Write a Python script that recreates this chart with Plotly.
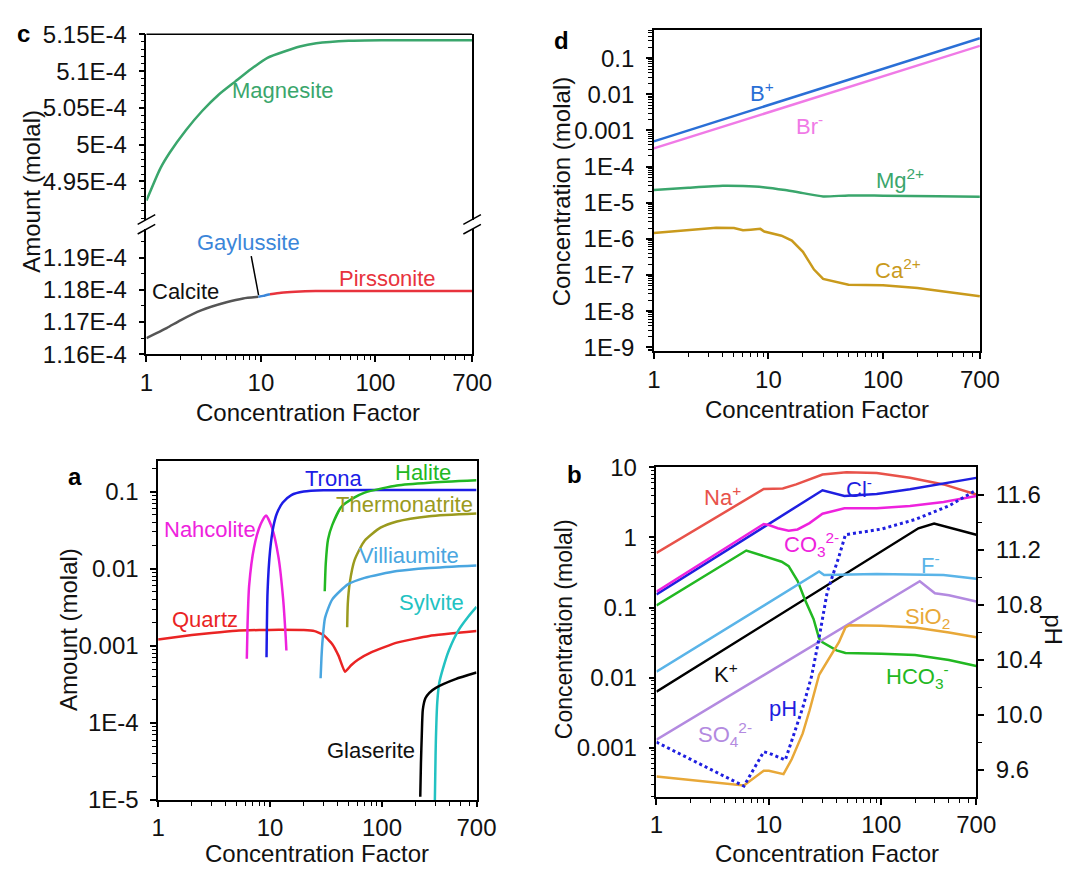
import math
import plotly.graph_objects as go

W, H = 1086, 877
FONT = "Liberation Sans, Arial, sans-serif"


def px(x, y):
    return x / W, 1 - y / H


# ---------------- Panel c (amounts, broken y-axis) ----------------
c_mag_x = [1, 1.32, 1.6, 2.22, 3.08, 4.27, 5.92, 8.21, 11.4, 21.9, 30.4, 58.4, 112, 700]
c_mag_y = [4.924e-4, 4.9675e-4, 4.9893e-4, 5.0199e-4, 5.0461e-4, 5.0679e-4, 5.0854e-4,
           5.1028e-4, 5.1181e-4, 5.1334e-4, 5.1378e-4, 5.1413e-4, 5.1421e-4, 5.1421e-4]
c_cal_x = [1, 1.5, 2, 3, 5, 7, 9.5]
c_cal_y = [1.1650e-4, 1.1681e-4, 1.1706e-4, 1.1736e-4, 1.1761e-4, 1.1773e-4, 1.1778e-4]
c_gay_x = [9.5, 10.5, 12]
c_gay_y = [1.1778e-4, 1.1781e-4, 1.1786e-4]
c_pir_x = [12, 15, 20, 30, 50, 100, 700]
c_pir_y = [1.1786e-4, 1.1791e-4, 1.1794e-4, 1.1796e-4, 1.1796e-4, 1.1796e-4, 1.1796e-4]
c_low_ticks = [1.16e-4, 1.17e-4, 1.18e-4, 1.19e-4]
c_low_text = ["1.16E-4", "1.17E-4", "1.18E-4", "1.19E-4"]
c_up_ticks = [4.95e-4, 5.0e-4, 5.05e-4, 5.1e-4, 5.15e-4]
c_up_text = ["4.95E-4", "5E-4", "5.05E-4", "5.1E-4", "5.15E-4"]

# ---------------- Panel d (concentrations) ----------------
d_lin_x = [1, 10, 100, 700]
d_b_y = [5.0e-4, 5.0e-3, 5.0e-2, 0.36]
d_br_y = [3.2e-4, 3.2e-3, 3.2e-2, 0.22]
d_mg_x = [1, 2, 4, 6, 9, 14, 20, 30, 50, 100, 300, 700]
d_mg_y = [2.25e-5, 2.6e-5, 2.95e-5, 2.9e-5, 2.7e-5, 2.25e-5, 1.85e-5, 1.5e-5, 1.6e-5,
          1.57e-5, 1.52e-5, 1.48e-5]
d_ca_x = [1, 3.5, 5, 6, 7, 8.5, 9.2, 13, 16, 20, 25, 30, 50, 100, 200, 300, 700]
d_ca_y = [1.45e-6, 2.05e-6, 2.0e-6, 1.74e-6, 1.8e-6, 1.9e-6, 1.6e-6, 1.23e-6, 9e-7, 4.4e-7,
          1.42e-7, 7.8e-8, 5.4e-8, 5.2e-8, 4.4e-8, 3.7e-8, 2.6e-8]
d_ticks = [1e-9, 1e-8, 1e-7, 1e-6, 1e-5, 1e-4, 1e-3, 1e-2, 1e-1]
d_text = ["1E-9", "1E-8", "1E-7", "1E-6", "1E-5", "1E-4", "0.001", "0.01", "0.1"]

# ---------------- Panel a (mineral amounts) ----------------
a_qtz_x = [1, 2, 3, 5, 8, 12, 20, 25, 30, 36, 41, 46.7, 53, 61, 80, 136, 265, 700]
a_qtz_y = [1.21e-3, 1.38e-3, 1.47e-3, 1.57e-3, 1.6e-3, 1.61e-3, 1.6e-3, 1.55e-3, 1.38e-3,
           1.05e-3, 7.4e-4, 4.6e-4, 5.6e-4, 6.6e-4, 8.2e-4, 1.1e-3, 1.34e-3, 1.55e-3]
a_nah_x = [6.2, 6.3, 6.5, 7.2, 8.2, 9.2, 10.4, 11.9, 13.1, 13.8, 14.0]
a_nah_y = [6.8e-4, 2e-3, 6e-3, 0.019, 0.037, 0.049, 0.034, 0.014, 4e-3, 1.3e-3, 8.7e-4]
a_tro_x = [9.3, 9.5, 10, 10.7, 11.5, 13, 15.5, 20, 30, 100, 700]
a_tro_y = [7.1e-4, 5e-3, 0.017, 0.035, 0.052, 0.072, 0.09, 0.1, 0.104, 0.105, 0.105]
a_hal_x = [30.8, 31.5, 33, 36, 43.6, 57, 70, 100, 136, 265, 700]
a_hal_y = [5.1e-3, 0.012, 0.024, 0.037, 0.064, 0.084, 0.097, 0.11, 0.12, 0.13, 0.14]
a_the_x = [48.9, 49.5, 51.5, 57, 70, 97, 136, 265, 700]
a_the_y = [1.74e-3, 3.5e-3, 6.5e-3, 0.013, 0.023, 0.034, 0.041, 0.048, 0.052]
a_vil_x = [28.3, 28.8, 29.5, 31, 36, 50, 70, 136, 265, 700]
a_vil_y = [3.8e-4, 7e-4, 1.2e-3, 2.3e-3, 4e-3, 6.3e-3, 7.6e-3, 9.3e-3, 0.0102, 0.011]
a_syl_x = [297, 300, 303, 312, 325, 347, 396, 484, 592, 700]
a_syl_y = [1e-5, 2.5e-5, 5.7e-5, 1.84e-4, 3.3e-4, 4.8e-4, 8.7e-4, 1.6e-3, 2.4e-3, 3.2e-3]
a_gla_x = [220, 223, 227, 232, 245, 265, 303, 454, 700]
a_gla_y = [1.1e-5, 3e-5, 7e-5, 1.5e-4, 2.1e-4, 2.46e-4, 2.85e-4, 3.7e-4, 4.5e-4]
a_ticks = [1e-5, 1e-4, 1e-3, 1e-2, 1e-1]
a_text = ["1E-5", "1E-4", "0.001", "0.01", "0.1"]

# ---------------- Panel b (ions + pH) ----------------
b_na_x = [1, 6.3, 9, 13.3, 17.5, 30, 49, 91, 180, 358, 700]
b_na_y = [0.6, 3.5, 4.9, 5.0, 5.7, 7.9, 8.5, 8.3, 7.1, 5.7, 4.1]
b_cl_x = [1, 30, 47, 91, 180, 358, 700]
b_cl_y = [0.154, 4.7, 3.9, 4.15, 4.86, 5.9, 7.07]
b_co3_x = [1, 9, 10, 12, 15, 18, 23, 30, 47, 91, 180, 358, 700]
b_co3_y = [0.168, 1.55, 1.5, 1.35, 1.25, 1.3, 1.6, 2.18, 2.6, 2.6, 2.8, 3.2, 3.9]
b_k_x = [1, 214, 295, 700]
b_k_y = [0.0063, 1.35, 1.58, 1.09]
b_hco3_x = [1, 6.3, 13, 15, 18, 21, 25, 28, 30, 40, 48, 100, 200, 400, 700]
b_hco3_y = [0.107, 0.65, 0.45, 0.39, 0.24, 0.128, 0.068, 0.036, 0.032, 0.0245, 0.0225,
            0.022, 0.021, 0.0178, 0.0147]
b_f_x = [1, 28, 31, 91, 358, 700]
b_f_y = [0.0122, 0.326, 0.29, 0.30, 0.29, 0.257]
b_so4_x = [1, 220, 300, 400, 700]
b_so4_y = [0.0013, 0.237, 0.16, 0.15, 0.122]
b_si_x = [1, 6, 9, 10, 13.5, 16, 20, 23, 28, 33, 42, 48, 52, 100, 200, 400, 700]
b_si_y = [3.9e-4, 2.9e-4, 4.7e-4, 4.7e-4, 4.2e-4, 6.9e-4, 1.6e-3, 3.4e-3, 0.011, 0.0169,
          0.032, 0.052, 0.056, 0.055, 0.052, 0.044, 0.0376]
b_ph_x = [1, 6, 9, 10, 14, 16, 20, 24, 28, 33, 38, 42, 48, 100, 200, 400, 700]
b_ph_y = [9.8, 9.48, 9.73, 9.72, 9.67, 9.81, 10.05, 10.28, 10.56, 10.89, 11.04, 11.15,
          11.31, 11.35, 11.42, 11.52, 11.635]
b_ticks = [1e-3, 1e-2, 1e-1, 1, 10]
b_text = ["0.001", "0.01", "0.1", "1", "10"]
ph_ticks = [9.6, 10.0, 10.4, 10.8, 11.2, 11.6]
ph_text = ["9.6", "10.0", "10.4", "10.8", "11.2", "11.6"]

x_ticks = [1, 10, 100, 700]
x_text = ["1", "10", "100", "700"]

# colors
C_MAG = "#3aa66c"
C_CAL = "#555555"
C_GAY = "#3b86d9"
C_PIR = "#e8333d"

fig = go.Figure()


def line(x, y, color, xa, ya, shape="spline", width=2.5, dash=None, smoothing=0.6):
    ln = dict(color=color, width=width, shape=shape)
    if shape == "spline":
        ln["smoothing"] = smoothing
    if dash:
        ln["dash"] = dash
    fig.add_trace(go.Scatter(x=x, y=y, mode="lines", line=ln, xaxis=xa, yaxis=ya,
                             showlegend=False, hoverinfo="skip"))


# panel c
line(c_mag_x, c_mag_y, C_MAG, "x", "y2")
line(c_cal_x, c_cal_y, C_CAL, "x", "y")
line(c_gay_x, c_gay_y, C_GAY, "x", "y")
line(c_pir_x, c_pir_y, C_PIR, "x", "y")
# panel d
line(d_lin_x, d_b_y, "#2a6fd6", "x2", "y3", shape="linear")
line(d_lin_x, d_br_y, "#f07ae6", "x2", "y3", shape="linear")
line(d_mg_x, d_mg_y, C_MAG, "x2", "y3")
line(d_ca_x, d_ca_y, "#c99a1c", "x2", "y3", shape="linear")
# panel a
line(a_qtz_x, a_qtz_y, "#ea2424", "x3", "y4", smoothing=0.4)
line(a_nah_x, a_nah_y, "#ee22dd", "x3", "y4")
line(a_tro_x, a_tro_y, "#1c1ce6", "x3", "y4")
line(a_hal_x, a_hal_y, "#22b822", "x3", "y4")
line(a_the_x, a_the_y, "#9a9a1e", "x3", "y4")
line(a_vil_x, a_vil_y, "#4aa6e0", "x3", "y4")
line(a_syl_x, a_syl_y, "#22c2c2", "x3", "y4")
line(a_gla_x, a_gla_y, "#000000", "x3", "y4")
# panel b
line(b_na_x, b_na_y, "#e8524a", "x4", "y5", shape="linear")
line(b_cl_x, b_cl_y, "#1f1fe0", "x4", "y5", shape="linear")
line(b_co3_x, b_co3_y, "#ee22dd", "x4", "y5", shape="linear")
line(b_k_x, b_k_y, "#000000", "x4", "y5", shape="linear")
line(b_hco3_x, b_hco3_y, "#22b822", "x4", "y5", shape="linear")
line(b_f_x, b_f_y, "#5ab4e8", "x4", "y5", shape="linear")
line(b_so4_x, b_so4_y, "#b38ae0", "x4", "y5", shape="linear")
line(b_si_x, b_si_y, "#e8a838", "x4", "y5", shape="linear")
line(b_ph_x, b_ph_y, "#1f1fe0", "x4", "y6", shape="linear", width=3, dash="dot")

TICKFONT = dict(family=FONT, size=24, color="#111111")
minor_x = [v * 10 ** k for k in range(0, 3) for v in range(2, 10) if v * 10 ** k < 700]


def decade_minor(lo, hi):
    return [v * 10.0 ** k for k in range(lo, hi) for v in range(2, 10)]


def xaxis(dom, anchor, mirror=True, ticklen=6):
    return dict(type="log", domain=dom, anchor=anchor, range=[0, math.log10(700)],
                tickmode="array", tickvals=x_ticks, ticktext=x_text, ticks="outside",
                ticklen=ticklen, tickwidth=1.5, tickcolor="black", showline=True,
                linecolor="black", linewidth=1.5, mirror=mirror, showgrid=False,
                zeroline=False, tickfont=TICKFONT, ticklabelstandoff=0,
                minor=dict(tickmode="array", tickvals=minor_x, ticks="outside", ticklen=4,
                           tickwidth=1, tickcolor="black", showgrid=False))


def yaxis(dom, anchor, rng, tv, tt, log=True, minor=None, mirror=True, **kw):
    d = dict(domain=dom, anchor=anchor, range=rng, tickmode="array", tickvals=tv, ticktext=tt,
             ticks="outside", ticklen=6, tickwidth=1.5, tickcolor="black", showline=True,
             linecolor="black", linewidth=1.5, mirror=mirror, showgrid=False, zeroline=False,
             tickfont=TICKFONT, ticklabelstandoff=7)
    if log:
        d["type"] = "log"
    if minor is not None:
        d["minor"] = dict(tickmode="array", tickvals=minor, ticks="outside", ticklen=4,
                          tickwidth=1, tickcolor="black", showgrid=False)
    d.update(kw)
    return d


layout = dict(
    width=W, height=H, margin=dict(l=0, r=0, t=0, b=0),
    paper_bgcolor="white", plot_bgcolor="white",
    font=dict(family=FONT, size=22, color="#111111"),
    showlegend=False,
)
# panel c axes
layout["xaxis"] = xaxis([143 / W, 477 / W], "y", mirror=False)
layout["yaxis"] = yaxis([1 - 351 / H, 1 - 222 / H], "x", [1.16e-4, 1.1988e-4], c_low_ticks,
                        c_low_text, log=False,
                        minor=[1.165e-4, 1.175e-4, 1.185e-4, 1.195e-4])
layout["yaxis2"] = yaxis([1 - 213 / H, 1 - 21 / H], "x", [4.897e-4, 5.15e-4], c_up_ticks,
                         c_up_text, log=False,
                         minor=[4.9e-4 + i * 0.01e-4 for i in range(0, 26)])
# panel d
layout["xaxis2"] = xaxis([663.3 / W, 997.7 / W], "y3")
layout["yaxis3"] = yaxis([1 - 347.7 / H, 1 - 16 / H], "x2", [-9.1, -0.206], d_ticks, d_text,
                         minor=decade_minor(-10, 0))
# panel a
layout["xaxis3"] = xaxis([155 / W, 481.5 / W], "y4", ticklen=5)
layout["yaxis4"] = yaxis([1 - 811 / H, 1 - 461.7 / H], "x3", [-5, -0.61], a_ticks, a_text,
                         minor=decade_minor(-5, 0))
# panel b
layout["xaxis4"] = xaxis([666 / W, 994 / W], "y5")
layout["yaxis5"] = yaxis([1 - 807.7 / H, 1 - 467.7 / H], "x4", [-3.7, 1], b_ticks, b_text,
                         minor=decade_minor(-4, 1), mirror=False)
layout["yaxis6"] = yaxis([1 - 807.7 / H, 1 - 467.7 / H], "x4", [9.402, 11.8], ph_ticks,
                         ph_text, log=False, minor=[9.8, 10.2, 10.6, 11.0, 11.4],
                         mirror=False, side="right", overlaying="y5")

fig.update_layout(**layout)

# shapes: top frame line of panel c and axis-break marks
shapes = []
x0, y0 = px(143, 21)
x1, _ = px(477, 21)
shapes.append(dict(type="line", xref="paper", yref="paper", x0=x0, y0=y0, x1=x1, y1=y0,
                   line=dict(color="black", width=1.5)))
for bx in (143, 477):
    for by in (212, 222):
        a0 = px(bx - 9, by + 5)
        a1 = px(bx + 9, by - 5)
        shapes.append(dict(type="line", xref="paper", yref="paper", x0=a0[0], y0=a0[1],
                           x1=a1[0], y1=a1[1], line=dict(color="black", width=1.5)))
fig.update_layout(shapes=shapes)

annots = []


def label(text, x, y, color, size=22, bold=False, angle=0):
    xp, yp = px(x, y)
    if bold:
        text = "<b>" + text + "</b>"
    annots.append(dict(text=text, x=xp, y=yp, xref="paper", yref="paper", showarrow=False,
                       xanchor="center", yanchor="middle", textangle=angle,
                       font=dict(family=FONT, size=size, color=color)))


# panel letters
label("c", 17, 20, "black", size=24, bold=True)
label("d", 569, 27, "black", size=24, bold=True)
label("a", 70, 477, "black", size=24, bold=True)
label("b", 582, 475, "black", size=24, bold=True)
# axis titles
label("Concentration Factor", 309, 411, "#111111", size=24)
label("Concentration Factor", 831, 408, "#111111", size=24)
label("Concentration Factor", 318, 866, "#111111", size=24)
label("Concentration Factor", 841, 866, "#111111", size=24)
label("Amount (molal)", 25, 183, "#111111", size=24, angle=-90)
label("Amount (molal)", 63, 635, "#111111", size=24, angle=-90)
label("Concentration (molal)", 569, 183, "#111111", size=24, angle=-90)
label("Concentration (molal)", 572, 635, "#111111", size=23, angle=-90)
label("pH", 1073, 635, "#111111", size=24, angle=90)
# panel c labels
label("Magnesite", 283, 79, C_MAG)
label("Calcite", 183, 286, "#111111")
label("Pirssonite", 390, 273, C_PIR)
hx, hy = px(258, 290)
annots.append(dict(text="Gaylussite", x=hx, y=hy, xref="paper", yref="paper", showarrow=True,
                   ax=-10, ay=-53, axref="pixel", ayref="pixel", arrowhead=0, arrowwidth=1.5,
                   arrowcolor="black", font=dict(family=FONT, size=22, color=C_GAY)))
# panel d labels
label("B<sup>+</sup>", 774, 80, "#2a6fd6")
label("Br<sup>-</sup>", 823, 115, "#f07ae6")
label("Mg<sup>2+</sup>", 916, 170, C_MAG)
label("Ca<sup>2+</sup>", 914, 263, "#c99a1c")
# panel a labels
label("Nahcolite", 208, 532, "#ee22dd")
label("Trona", 335, 479, "#1c1ce6")
label("Halite", 427, 473, "#22b822")
label("Thermonatrite", 408, 506, "#9a9a1e")
label("Villiaumite", 412, 559, "#4aa6e0")
label("Sylvite", 435, 607, "#22c2c2")
label("Quartz", 203, 625, "#ea2424")
label("Glaserite", 373, 760, "#111111")
# panel b labels
label("Na<sup>+</sup>", 734, 497, "#e8524a")
label("Cl<sup>-</sup>", 874, 489, "#1f1fe0")
label("CO<sub>3</sub><sup>2-</sup>", 825, 547, "#ee22dd")
label("F<sup>-</sup>", 947, 567, "#5ab4e8")
label("SiO<sub>2</sub>", 944, 623, "#e8a838")
label("K<sup>+</sup>", 737, 680, "#111111")
label("HCO<sub>3</sub><sup>-</sup>", 934, 684, "#22b822")
label("pH", 796, 717, "#1f1fe0")
label("SO<sub>4</sub><sup>2-</sup>", 736, 743, "#b38ae0")

fig.update_layout(annotations=annots)

fig.write_html("out.html", config={"displayModeBar": False},
               post_script="document.body.style.margin='0px';")
